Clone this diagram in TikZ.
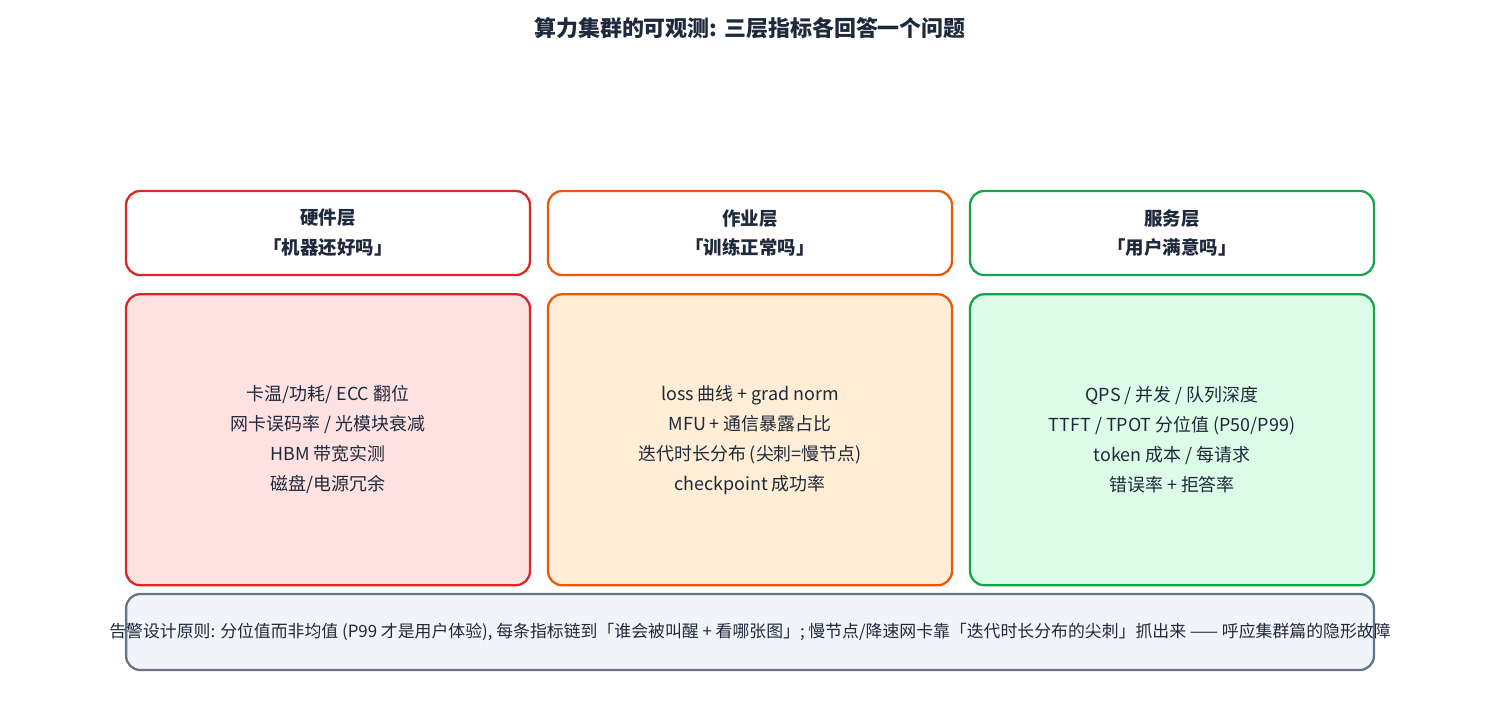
\documentclass[tikz,border=0pt]{standalone}
\usepackage{fontspec}
\setmainfont{Noto Sans CJK SC}
\usepackage{xcolor}
\definecolor{hwred}{HTML}{DC2626}
\definecolor{hwfill}{HTML}{FEE2E2}
\definecolor{joborange}{HTML}{EA580C}
\definecolor{jobfill}{HTML}{FFEDD5}
\definecolor{svcgreen}{HTML}{16A34A}
\definecolor{svcfill}{HTML}{DCFCE7}
\definecolor{notegray}{HTML}{64748B}
\definecolor{notefill}{HTML}{F1F5F9}
\definecolor{ink}{HTML}{1E293B}
\usetikzlibrary{positioning}

\tikzset{
  head/.style={draw=#1,line width=1.3pt,rounded corners=8pt,fill=white,
    minimum width=8.08cm,minimum height=1.68cm,align=center,
    font=\bfseries\fontsize{10.5}{17}\selectfont,text=ink},
  body/.style={draw=#1,line width=1.3pt,rounded corners=8pt,
    minimum width=8.08cm,minimum height=5.82cm,align=center,
    font=\fontsize{10.2}{17}\selectfont,text=ink}
}

\begin{document}
\begin{tikzpicture}[x=0.02cm,y=-0.02cm]
  \useasboundingbox (0,0) rectangle (1501,701);
  \node[font=\bfseries\fontsize{12.5}{15}\selectfont,text=ink] (title) at (750,28)
    {算力集群的可观测: 三层指标各回答一个问题};

  % three layers
  \node[head=hwred] (hwhead) at (328,233) {硬件层\\「机器还好吗」};
  \node[head=joborange] (jobhead) at (750,233) {作业层\\「训练正常吗」};
  \node[head=svcgreen] (svchead) at (1172,233) {服务层\\「用户满意吗」};

  \node[body=hwred,fill=hwfill,below=0.34cm of hwhead] (hwbody)
    {卡温/功耗/ ECC 翻位\\网卡误码率 / 光模块衰减\\HBM 带宽实测\\磁盘/电源冗余};
  \node[body=joborange,fill=jobfill,below=0.34cm of jobhead] (jobbody)
    {loss 曲线 + grad norm\\MFU + 通信暴露占比\\迭代时长分布 (尖刺=慢节点)\\checkpoint 成功率};
  \node[body=svcgreen,fill=svcfill,below=0.34cm of svchead] (svcbody)
    {QPS / 并发 / 队列深度\\TTFT / TPOT 分位值 (P50/P99)\\token 成本 / 每请求\\错误率 + 拒答率};

  % alerting note
  \node[draw=notegray,line width=1.3pt,rounded corners=8pt,fill=notefill,
    minimum width=24.96cm,minimum height=1.52cm] (note) at (750,632) {};
  \node[font=\fontsize{9.6}{12}\selectfont,text=ink] (notetext) at (750,632)
    {告警设计原则: 分位值而非均值 (P99 才是用户体验), 每条指标链到「谁会被叫醒 + 看哪张图」; 慢节点/降速网卡靠「迭代时长分布的尖刺」抓出来 —— 呼应集群篇的隐形故障};
\end{tikzpicture}
\end{document}
